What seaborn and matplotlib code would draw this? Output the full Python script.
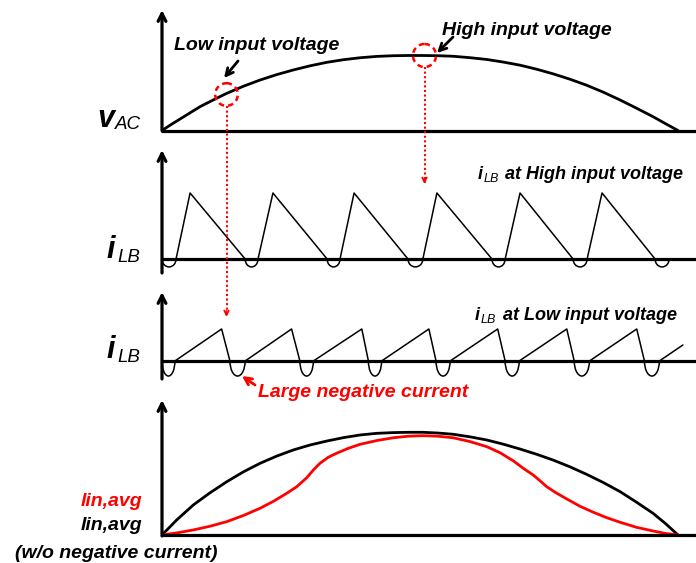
import numpy as np
import pandas as pd
import matplotlib
matplotlib.use("Agg")
import matplotlib.pyplot as plt
from matplotlib.patches import Arc, Circle
import seaborn as sns

# ---- waveform data (phase in electrical degrees over one half line cycle) ----
vac_phase = [0, 3.2, 6.3, 9.8, 13.3, 18.0, 22.6, 28.4, 34.2, 40.0, 45.8, 51.6,
             57.5, 63.3, 69.1, 74.9, 80.7, 85.9, 91.0, 96.2, 101.5, 107.4,
             113.3, 119.1, 124.9, 130.7, 136.4, 142.3, 148.1, 154.0, 159.8,
             165.5, 171.3, 175.7, 180]
vac_level = [0, 0.080, 0.153, 0.236, 0.318, 0.410, 0.496, 0.590, 0.673, 0.745,
             0.807, 0.862, 0.909, 0.944, 0.970, 0.988, 0.997, 1.0, 1.0, 0.997,
             0.990, 0.971, 0.947, 0.912, 0.871, 0.817, 0.756, 0.684, 0.604,
             0.510, 0.407, 0.298, 0.184, 0.090, 0]

# inductor current at high input voltage: sawtooth vertices
hi_phase = [4.9, 9.8, 29.0, 33.5, 38.7, 57.6, 62.1, 67.0, 85.8,
            91.0, 95.9, 115.1, 119.7, 124.9, 143.4, 148.3, 153.5, 172.0]
hi_current = [0, 1, 0, 0, 1, 0, 0, 1, 0,
              0, 1, 0, 0, 1, 0, 0, 1, 0]
hi_dip_start = [0, 29.0, 57.6, 85.8, 115.1, 143.4, 172.0]
hi_dip_end = [4.9, 33.5, 62.1, 91.0, 119.7, 148.3, 176.9]
hi_dip_depth = 0.12

# inductor current at low input voltage: sawtooth vertices
lo_phase = [4.5, 20.8, 23.7, 29.0, 45.2, 48.1, 52.8, 69.7, 72.0, 76.6,
            93.1, 95.6, 100.5, 117.1, 119.7, 124.6, 141.2, 143.8, 149.1,
            165.6, 168.3, 173.5, 181.7]
lo_current = [0, 1, 0, 0, 1, 0, 0, 1, 0, 0,
              1, 0, 0, 1, 0, 0, 1, 0, 0,
              1, 0, 0, 0.5]
lo_dip_start = [0, 23.7, 48.1, 72.0, 95.6, 119.7, 143.8, 168.3]
lo_dip_end = [4.5, 29.0, 52.8, 76.6, 100.5, 124.6, 149.1, 173.5]
lo_dip_depth = 0.47

# average input current without negative current (black)
avg_phase = [0, 5.1, 10.9, 16.7, 22.6, 28.4, 34.2, 40.0, 45.8, 51.6, 57.5,
             63.3, 69.1, 74.9, 80.7, 85.9, 91.0, 96.2, 101.5, 107.4, 113.3,
             119.1, 124.9, 130.7, 136.4, 142.3, 148.1, 154.0, 159.8, 165.5,
             171.3, 175.7, 180]
avg_ideal = [0, 0.146, 0.292, 0.410, 0.519, 0.615, 0.698, 0.768, 0.828, 0.876,
             0.915, 0.948, 0.974, 0.990, 0.997, 1.0, 1.0, 0.993, 0.981, 0.956,
             0.925, 0.884, 0.837, 0.786, 0.730, 0.664, 0.591, 0.510, 0.422,
             0.320, 0.211, 0.110, 0]

# average input current with negative current (red)
neg_phase = [0, 5.5, 10.9, 16.7, 22.6, 28.4, 34.2, 39.0, 43.5, 47.0, 50.5,
             52.8, 55.1, 58.0, 60.9, 65.0, 69.1, 75.0, 80.7, 85.9, 91.0, 96.2,
             101.5, 107.4, 113.3, 118.0, 122.6, 126.0, 129.5, 132.0, 134.2,
             137.5, 141.2, 145.8, 150.5, 155.0, 159.8, 165.5, 171.3, 175.7, 180]
avg_with_neg = [0, 0.022, 0.049, 0.085, 0.130, 0.190, 0.260, 0.330, 0.406,
                0.470, 0.558, 0.633, 0.698, 0.757, 0.796, 0.844, 0.883, 0.920,
                0.947, 0.962, 0.967, 0.962, 0.947, 0.910, 0.860, 0.800, 0.721,
                0.650, 0.584, 0.525, 0.470, 0.410, 0.351, 0.280, 0.221, 0.170,
                0.124, 0.075, 0.039, 0.015, 0]

sns.set_theme(style="white")
plt.rcParams["font.family"] = ["Liberation Sans", "DejaVu Sans"]
plt.rcParams["text.color"] = "black"

W, H = 696, 563
fig = plt.figure(figsize=(W / 100, H / 100), dpi=100)
RED = "#FF0000"
X0, XSPAN = 162, 516          # plot origin and half-cycle width in pixels
XMAX = (W - X0) / XSPAN * 180


def panel(baseline, unit, top, bottom, axis_top, axis_bottom):
    """Axes whose zero line sits at `baseline` and whose unit is `unit` pixels."""
    ax = fig.add_axes([X0 / W, 1 - bottom / H, (W - X0) / W, (bottom - top) / H])
    ax.set_xlim(0, XMAX)
    ax.set_ylim((baseline - bottom) / unit, (baseline - top) / unit)
    ax.axis("off")
    ax.axhline(0, color="black", lw=2.3, clip_on=False, zorder=3)
    ax.annotate("", xy=(0, (baseline - axis_top) / unit),
                xytext=(0, (baseline - axis_bottom) / unit),
                arrowprops=dict(arrowstyle="->", lw=2.3, color="black",
                                mutation_scale=14, shrinkA=0, shrinkB=0),
                annotation_clip=False, zorder=3)
    return ax


def add_dips(ax, starts, ends, depth, lw):
    for s, e in zip(starts, ends):
        ax.add_patch(Arc(((s + e) / 2, 0), e - s, 2 * depth, theta1=180,
                         theta2=360, color="black", lw=lw, clip_on=False))


line_kw = dict(sort=False, estimator=None, solid_joinstyle="round",
               solid_capstyle="round")

# v_AC
ax1 = panel(130.5, 75, 5, 140, 10, 130.5)
sns.lineplot(x=vac_phase, y=vac_level, ax=ax1, color="black", lw=2.0, **line_kw)

# i_LB at high input voltage
ax2 = panel(259, 66, 145, 280, 150, 273)
sns.lineplot(x=hi_phase, y=hi_current, ax=ax2, color="black", lw=1.1, **line_kw)
add_dips(ax2, hi_dip_start, hi_dip_end, hi_dip_depth, 1.1)

# i_LB at low input voltage
ax3 = panel(361, 32, 287, 385, 292, 379)
sns.lineplot(x=lo_phase, y=lo_current, ax=ax3, color="black", lw=1.1, **line_kw)
add_dips(ax3, lo_dip_start, lo_dip_end, lo_dip_depth, 1.1)

# average input currents
ax4 = panel(535, 102.7, 395, 545, 400, 536)
sns.lineplot(x=avg_phase, y=avg_ideal, ax=ax4, color="black", lw=2.0, **line_kw)
sns.lineplot(x=neg_phase, y=avg_with_neg, ax=ax4, color=RED, lw=2.0, **line_kw)

# ---- annotation layer in pixel coordinates ----
ov = fig.add_axes([0, 0, 1, 1])
ov.set_xlim(0, W)
ov.set_ylim(H, 0)
ov.axis("off")

bi = dict(fontweight="bold", style="italic")
it = dict(style="italic")

ov.text(97, 127, "v", fontsize=22, ha="left", va="baseline", **bi)
ov.text(115, 129, "AC", fontsize=13.5, ha="left", va="baseline", **it)
for base in (258, 358):
    ov.text(106, base, "i", fontsize=22, ha="left", va="baseline", **bi)
    ov.text(117, base + 4, "LB", fontsize=13.5, ha="left", va="baseline", **it)

ov.text(257, 50, "Low input voltage", fontsize=14, ha="center", va="baseline", **bi)
ov.text(527, 35, "High input voltage", fontsize=14, ha="center", va="baseline", **bi)

ov.text(478, 179, "i", fontsize=13, ha="left", va="baseline", **bi)
ov.text(484, 182, "LB", fontsize=9, ha="left", va="baseline", **it)
ov.text(683, 179, "at High input voltage", fontsize=13, ha="right", va="baseline", **bi)
ov.text(475, 320, "i", fontsize=13, ha="left", va="baseline", **bi)
ov.text(481, 323, "LB", fontsize=9, ha="left", va="baseline", **it)
ov.text(677, 320, "at Low input voltage", fontsize=13, ha="right", va="baseline", **bi)

ov.text(258, 397, "Large negative current", fontsize=14, color=RED,
        ha="left", va="baseline", **bi)
ov.text(142, 506, "lin,avg", fontsize=14, color=RED, ha="right", va="baseline", **bi)
ov.text(142, 530, "lin,avg", fontsize=14, color="black", ha="right", va="baseline", **bi)
ov.text(15, 558, "(w/o negative current)", fontsize=14, ha="left", va="baseline", **bi)

# pointer arrows
arrow_k = dict(arrowstyle="->", lw=2.0, color="black", mutation_scale=13,
               shrinkA=0, shrinkB=0)
ov.annotate("", xy=(224, 78), xytext=(238, 61), arrowprops=arrow_k)
ov.annotate("", xy=(437, 53), xytext=(453, 37), arrowprops=arrow_k)
ov.annotate("", xy=(242, 376), xytext=(255, 385),
            arrowprops=dict(arrow_k, color=RED))

# highlighted operating points and their projections
for cx, cy, r, y_end in ((226.5, 94.5, 11.3, 317), (424.5, 55.5, 11.5, 184)):
    ov.add_patch(Circle((cx, cy), r, fill=False, ec=RED, lw=1.8, ls=(0, (2.2, 1.6))))
    ov.plot([cx, cx], [cy + r, y_end - 1], color=RED, lw=1.5, ls=(0, (1, 1.2)))
    ov.annotate("", xy=(cx, y_end), xytext=(cx, y_end - 6),
                arrowprops=dict(arrowstyle="->", lw=1.3, color=RED,
                                mutation_scale=8, shrinkA=0, shrinkB=0))

fig.savefig("out.png", dpi=100, facecolor="white")
